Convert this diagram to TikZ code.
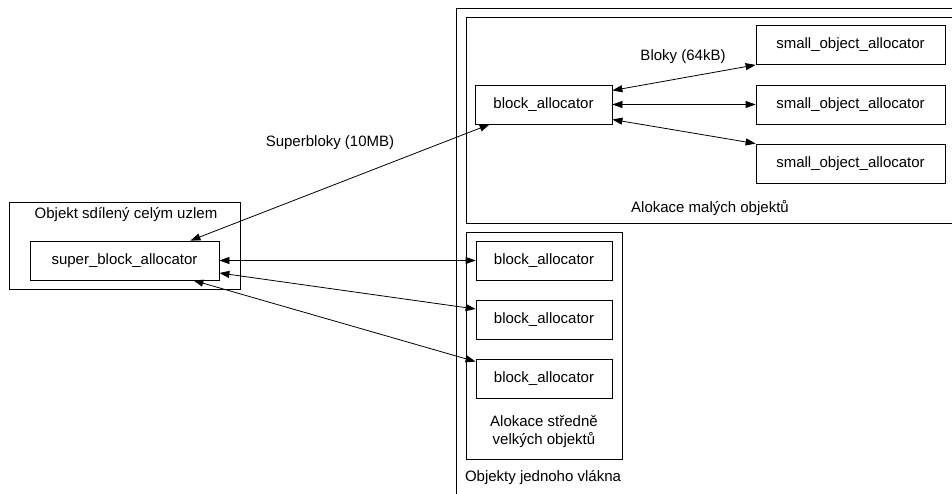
\documentclass[tikz,border=0pt]{standalone}
\usepackage{fontspec}
\setmainfont{Liberation Sans}
\usetikzlibrary{arrows.meta}

\begin{document}
\begin{tikzpicture}[x=1pt,y=-1pt,line width=0.8pt,
    font=\fontsize{15}{18}\selectfont,
    alloc/.style={draw,inner sep=0pt,minimum height=39pt},
    link/.style={{Triangle[length=10pt,width=7pt]}-{Triangle[length=10pt,width=7pt]}}]
    \useasboundingbox (0,0) rectangle (952,494);

    % thread frames, open to the right
    \draw (456,494) -- (456,8) -- (952,8);
    \draw (952,17) -- (466,17) -- (466,223) -- (952,223);
    \draw (466,232) rectangle (622,459);
    \draw (9,202) rectangle (240,289);

    % allocators
    \node[alloc,minimum width=137pt] (ba) at (543.5,104.5) {block\_allocator};
    \node[alloc,minimum width=189pt] (soa1) at (850.5,45) {small\_object\_allocator};
    \node[alloc,minimum width=189pt] (soa2) at (850.5,104.5) {small\_object\_allocator};
    \node[alloc,minimum width=189pt] (soa3) at (850.5,163.5) {small\_object\_allocator};
    \node[alloc,minimum width=189pt] (sba) at (124.5,260.5) {super\_block\_allocator};
    \node[alloc,minimum width=136pt] (mba1) at (544,260.5) {block\_allocator};
    \node[alloc,minimum width=136pt] (mba2) at (544,319.5) {block\_allocator};
    \node[alloc,minimum width=136pt] (mba3) at (544,378.5) {block\_allocator};

    % labels
    \node (lblok) at (683,57) {Bloky (64kB)};
    \node (lsuper) at (330,143) {Superbloky (10MB)};
    \node (lnode) at (126,215) {Objekt sdílený celým uzlem};
    \node (lsmall) at (710,208) {Alokace malých objektů};
    \node[align=center,text depth=0pt] (lmid) at (544,430) {Alokace středně\\velkých objektů};
    \node (lthread) at (543,478) {Objekty jednoho vlákna};

    % connections
    \draw[link] ([xshift=15pt]ba.south west) -- ([xshift=-29pt]sba.north east);
    \draw[link] (sba.east) -- (mba1.west);
    \draw[link] ([yshift=-12.5pt]sba.east) -- ([yshift=10.5pt]mba2.west);
    \draw[link] ([xshift=-26pt]sba.south east) -- ([yshift=-3pt]mba3.north west);
    \draw[link] ([yshift=14pt]ba.east) -- (soa1.south west);
    \draw[link] (ba.east) -- (soa2.west);
    \draw[link] ([yshift=-15pt]ba.east) -- (soa3.north west);
\end{tikzpicture}
\end{document}
